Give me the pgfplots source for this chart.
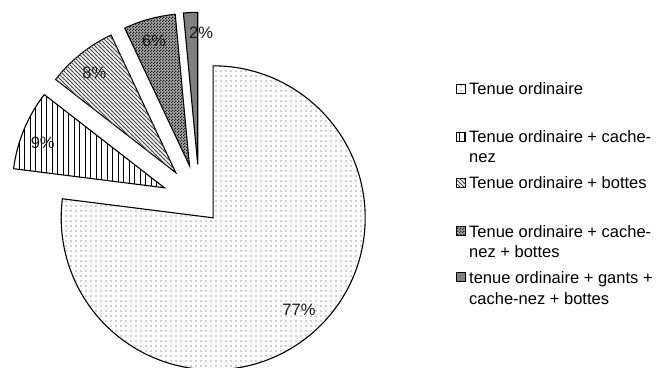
\documentclass[border=0pt]{standalone}
\usepackage{pgfplots}
\pgfplotsset{compat=1.18}
\usepackage{fontspec}
\setmainfont{Liberation Sans}
\usetikzlibrary{patterns}

% patterns (1pt = 1px of the reference)
\pgfdeclarepatternformonly{pdots}{\pgfpointorigin}{\pgfpoint{5pt}{4.5pt}}{\pgfpoint{5pt}{4.5pt}}{%
  \pgfpathcircle{\pgfpoint{1.2pt}{1.2pt}}{0.7pt}\pgfusepath{fill}}
\pgfdeclarepatternformonly{pvlines}{\pgfpoint{-1pt}{-1pt}}{\pgfpoint{6pt}{6pt}}{\pgfpoint{5.5pt}{5.5pt}}{%
  \pgfsetlinewidth{0.9pt}\pgfpathmoveto{\pgfpoint{2.75pt}{-1pt}}\pgfpathlineto{\pgfpoint{2.75pt}{6pt}}\pgfusepath{stroke}}
\pgfdeclarepatternformonly{pnwlines}{\pgfpoint{-1pt}{-1pt}}{\pgfpoint{5pt}{5pt}}{\pgfpoint{4pt}{4pt}}{%
  \pgfsetlinewidth{0.8pt}\pgfpathmoveto{\pgfpoint{-1pt}{5pt}}\pgfpathlineto{\pgfpoint{5pt}{-1pt}}\pgfusepath{stroke}}
\pgfdeclarepatternformonly{pchecker}{\pgfpointorigin}{\pgfpoint{3pt}{3pt}}{\pgfpoint{3pt}{3pt}}{%
  \pgfpathrectangle{\pgfpointorigin}{\pgfpoint{1.5pt}{1.5pt}}%
  \pgfpathrectangle{\pgfpoint{1.5pt}{1.5pt}}{\pgfpoint{1.5pt}{1.5pt}}\pgfusepath{fill}}

\tikzset{
  s1/.style={fill=white,postaction={pattern=pdots,pattern color=black!75}},
  s2/.style={fill=white,postaction={pattern=pvlines,pattern color=black}},
  s3/.style={fill=white,postaction={pattern=pnwlines,pattern color=black!70}},
  s4/.style={fill=black!35,postaction={pattern=pchecker,pattern color=black!85}},
  s5/.style={fill=black!50},
}

% pie slice: #1 value (percent), #2 explosion (px), #3 style
\def\cum{90}
\newcommand\pieslice[3]{%
  \pgfmathsetmacro\sa{\cum}%
  \pgfmathsetmacro\ea{\cum-3.6*#1}%
  \pgfmathsetmacro\ma{\cum-1.8*#1}%
  \edef\temp{\noexpand\draw[line width=1.1pt,#3] (axis cs:199.5,164.7) ++(\ma:#2pt) -- ++(\sa:152pt) arc[start angle=\sa,end angle=\ea,radius=152pt] -- cycle;}%
  \temp
  \global\let\cum\ea}

\newcommand\legbox[2]{%
  \edef\temp{\noexpand\draw[line width=0.9pt,#2] (axis cs:456.5,#1-4.5) rectangle (axis cs:465.5,#1+4.5);}\temp}

\begin{document}
\begin{tikzpicture}[font=\fontsize{16.5}{20}\selectfont]
\begin{axis}[
  at={(0,0)}, anchor=south west,
  width=663pt, height=367pt, scale only axis,
  xmin=0, xmax=663, ymin=0, ymax=367,
  hide axis, clip=true,
]
% values (percent) and explosions (px)
\pieslice{77}{20.7}{s1}
\pieslice{8.5}{38}{s2}
\pieslice{7.5}{38}{s3}
\pieslice{5.5}{38}{s4}
\pieslice{1.5}{38}{s5}

\node[text=black!90] at (axis cs:299,57) {77\%};
\node[text=black!90] at (axis cs:42.7,224.3) {9\%};
\node[text=black!90] at (axis cs:94.3,293.7) {8\%};
\node[text=black!90] at (axis cs:154,326.3) {6\%};
\node[text=black!90] at (axis cs:201,334.7) {2\%};

% legend
\legbox{278}{s1}
\legbox{230}{s2}
\legbox{184}{s3}
\legbox{136}{s4}
\legbox{90}{s5}
\node[anchor=base west,inner sep=0pt] at (axis cs:469,272) {Tenue ordinaire};
\node[anchor=base west,inner sep=0pt] at (axis cs:469,224) {Tenue ordinaire + cache-};
\node[anchor=base west,inner sep=0pt] at (axis cs:469,204) {nez};
\node[anchor=base west,inner sep=0pt] at (axis cs:469,178) {Tenue ordinaire + bottes};
\node[anchor=base west,inner sep=0pt] at (axis cs:469,130) {Tenue ordinaire + cache-};
\node[anchor=base west,inner sep=0pt] at (axis cs:469,110) {nez + bottes};
\node[anchor=base west,inner sep=0pt] at (axis cs:469,84) {tenue ordinaire + gants +};
\node[anchor=base west,inner sep=0pt] at (axis cs:469,63) {cache-nez + bottes};
\end{axis}
\pgfresetboundingbox
\path (0,0) rectangle (663pt,367pt);
\end{tikzpicture}
\end{document}
